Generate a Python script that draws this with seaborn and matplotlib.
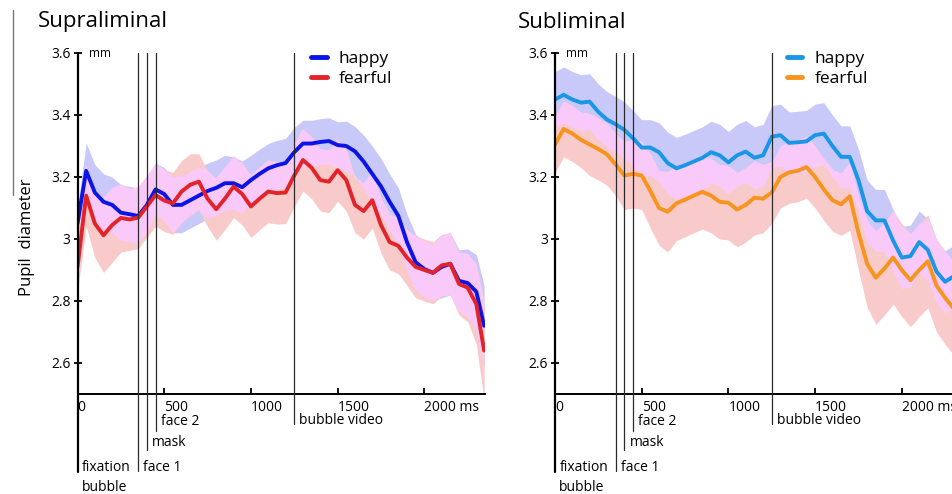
import numpy as np
import pandas as pd
import seaborn as sns
import matplotlib.pyplot as plt
import matplotlib.transforms as mtransforms
from matplotlib.lines import Line2D

sns.set_style('ticks', {'text.color': 'black', 'xtick.color': 'black',
                        'ytick.color': 'black', 'axes.edgecolor': 'black'})
plt.rcParams['font.family'] = ['Open Sans', 'DejaVu Sans']

# ---- data (ms, mm) ----
time_supra = list(range(0, 2301, 50)) + [2345]
supra_happy = [3.05, 3.22, 3.15, 3.12, 3.11, 3.085, 3.08, 3.074, 3.11, 3.16,
               3.145, 3.11, 3.11, 3.125, 3.14, 3.155, 3.165, 3.18, 3.18, 3.167,
               3.19, 3.21, 3.228, 3.238, 3.245, 3.28, 3.308, 3.308, 3.313, 3.316,
               3.303, 3.30, 3.283, 3.25, 3.21, 3.17, 3.12, 3.075, 2.99, 2.925,
               2.903, 2.891, 2.91, 2.92, 2.865, 2.858, 2.83, 2.72]
supra_fearful = [2.91, 3.14, 3.05, 3.012, 3.045, 3.068, 3.063, 3.069, 3.105, 3.142,
                 3.124, 3.115, 3.153, 3.175, 3.185, 3.13, 3.096, 3.13, 3.169, 3.145,
                 3.105, 3.13, 3.153, 3.148, 3.15, 3.205, 3.255, 3.23, 3.19, 3.185,
                 3.222, 3.19, 3.11, 3.09, 3.125, 3.045, 2.99, 2.978, 2.94, 2.91,
                 2.90, 2.891, 2.915, 2.92, 2.855, 2.843, 2.79, 2.64]
supra_happy_se = [0.05, 0.09, 0.09, 0.09, 0.09, 0.09, 0.09, 0.09, 0.09, 0.085,
                  0.085, 0.09, 0.09, 0.09, 0.09, 0.09, 0.09, 0.09, 0.085, 0.085,
                  0.08, 0.08, 0.08, 0.08, 0.08, 0.08, 0.075, 0.075, 0.075, 0.075,
                  0.075, 0.08, 0.08, 0.085, 0.09, 0.09, 0.09, 0.09, 0.09, 0.09,
                  0.09, 0.09, 0.10, 0.10, 0.10, 0.11, 0.12, 0.13]
supra_fearful_se = [0.08, 0.10, 0.11, 0.12, 0.12, 0.11, 0.10, 0.10, 0.10, 0.10,
                    0.10, 0.10, 0.10, 0.10, 0.09, 0.09, 0.10, 0.10, 0.10, 0.10,
                    0.10, 0.10, 0.10, 0.10, 0.10, 0.10, 0.10, 0.10, 0.10, 0.10,
                    0.10, 0.10, 0.09, 0.09, 0.09, 0.09, 0.09, 0.09, 0.09, 0.10,
                    0.10, 0.10, 0.10, 0.10, 0.10, 0.11, 0.13, 0.16]

time_sub = list(range(0, 2301, 50))
sub_happy = [3.45, 3.465, 3.45, 3.44, 3.443, 3.41, 3.385, 3.37, 3.352, 3.325,
             3.295, 3.295, 3.28, 3.245, 3.228, 3.238, 3.25, 3.262, 3.28, 3.27,
             3.247, 3.27, 3.282, 3.262, 3.27, 3.33, 3.335, 3.31, 3.312, 3.315,
             3.335, 3.34, 3.30, 3.265, 3.265, 3.19, 3.09, 3.06, 3.06, 2.995,
             2.94, 2.945, 2.99, 2.965, 2.895, 2.862, 2.88]
sub_fearful = [3.305, 3.355, 3.34, 3.32, 3.305, 3.29, 3.273, 3.24, 3.205, 3.21,
               3.205, 3.155, 3.10, 3.088, 3.115, 3.127, 3.14, 3.152, 3.14, 3.12,
               3.117, 3.095, 3.11, 3.133, 3.13, 3.15, 3.20, 3.215, 3.22, 3.232,
               3.20, 3.16, 3.125, 3.112, 3.138, 3.02, 2.92, 2.875, 2.905, 2.94,
               2.90, 2.867, 2.90, 2.928, 2.85, 2.81, 2.775]
sub_happy_se = [0.09, 0.09, 0.09, 0.09, 0.09, 0.09, 0.09, 0.09, 0.09, 0.09,
                0.09, 0.09, 0.095, 0.10, 0.10, 0.10, 0.10, 0.10, 0.10, 0.10,
                0.10, 0.10, 0.10, 0.10, 0.10, 0.10, 0.10, 0.10, 0.10, 0.10,
                0.10, 0.10, 0.10, 0.10, 0.10, 0.10, 0.10, 0.10, 0.10, 0.10,
                0.10, 0.10, 0.10, 0.10, 0.10, 0.10, 0.10]
sub_fearful_se = [0.09, 0.09, 0.09, 0.09, 0.10, 0.10, 0.10, 0.10, 0.11, 0.11,
                  0.11, 0.12, 0.12, 0.13, 0.12, 0.12, 0.12, 0.12, 0.12, 0.12,
                  0.12, 0.12, 0.12, 0.12, 0.11, 0.10, 0.10, 0.10, 0.10, 0.10,
                  0.10, 0.10, 0.10, 0.10, 0.11, 0.12, 0.14, 0.15, 0.15, 0.15,
                  0.15, 0.15, 0.15, 0.15, 0.15, 0.15, 0.15]

y_ticks = [2.6, 2.8, 3.0, 3.2, 3.4, 3.6]
y_ticklabels = ['2.6', '2.8', '3', '3.2', '3.4', '3.6']
x_ticks = [0, 500, 1000, 1500, 2000]
x_ticklabels = ['0', '500', '1000', '1500', '2000 ms']

event_times = [350, 400, 450, 1250]
event_labels = ['face 1', 'mask', 'face 2', 'bubble video']
event_bottoms = [-0.226, -0.164, -0.108, -0.088]
label_heights = [-0.217, -0.141, -0.082, -0.079]

band_happy = '#c9c9f9'
band_fearful = '#f9caca'
band_both = '#f9caf9'


def draw_panel(ax, t, happy, fearful, happy_se, fearful_se, c_happy, c_fearful, leg_x):
    t = np.asarray(t)
    h, f = np.asarray(happy), np.asarray(fearful)
    h_lo, h_hi = h - np.asarray(happy_se), h + np.asarray(happy_se)
    f_lo, f_hi = f - np.asarray(fearful_se), f + np.asarray(fearful_se)
    ax.fill_between(t, h_lo, h_hi, color=band_happy, lw=0)
    ax.fill_between(t, f_lo, f_hi, color=band_fearful, lw=0)
    lo, hi = np.maximum(h_lo, f_lo), np.minimum(h_hi, f_hi)
    ax.fill_between(t, lo, hi, where=lo < hi, interpolate=True, color=band_both, lw=0)

    df = pd.DataFrame({'t': t, 'happy': h, 'fearful': f})
    sns.lineplot(data=df, x='t', y='happy', color=c_happy, lw=2.8, ax=ax,
                 solid_joinstyle='round')
    sns.lineplot(data=df, x='t', y='fearful', color=c_fearful, lw=2.8, ax=ax,
                 solid_joinstyle='round')
    ax.set_xlabel('')
    ax.set_ylabel('')

    ax.set_xlim(0, 2350)
    ax.set_ylim(2.5, 3.6)
    ax.set_yticks(y_ticks)
    ax.set_yticklabels(y_ticklabels)
    ax.set_xticks(x_ticks)
    ax.set_xticklabels(x_ticklabels, ha='left')
    ax.tick_params(axis='x', direction='in', length=4, width=1.3, pad=4, labelsize=10)
    ax.tick_params(axis='y', direction='inout', length=6, width=1.3, pad=2, labelsize=10)
    for s in ['top', 'right', 'left']:
        ax.spines[s].set_visible(False)
    ax.spines['bottom'].set_linewidth(1.4)

    # y axis runs down to the fixation label
    ax.axvline(0, ymin=-0.229, ymax=1, color='k', lw=1.6, clip_on=False)
    trans = mtransforms.blended_transform_factory(ax.transData, ax.transAxes)
    for et, lab, yb, yl in zip(event_times, event_labels, event_bottoms, label_heights):
        ax.axvline(et, ymin=yb, ymax=1, color='#2a2a2a', lw=0.9, clip_on=False, zorder=4)
        ax.text(et + 30, yl, lab, transform=trans, fontsize=10, va='center', ha='left')
    ax.text(25, -0.217, 'fixation', transform=trans, fontsize=10, va='center', ha='left')
    ax.text(25, -0.273, 'bubble', transform=trans, fontsize=10, va='center', ha='left')
    ax.text(0.028, 1.0, 'mm', transform=ax.transAxes, fontsize=8.5, va='center', ha='left')

    handles = [Line2D([], [], color=c_happy, lw=3.5), Line2D([], [], color=c_fearful, lw=3.5)]
    ax.legend(handles, ['happy', 'fearful'], loc='upper left', bbox_to_anchor=(leg_x, 1.016),
              frameon=False, fontsize=12.5, handlelength=0.9, handletextpad=0.7,
              labelspacing=0.2, borderpad=0.2, borderaxespad=0)


fig = plt.figure(figsize=(9.52, 4.94), dpi=100)
ax1 = fig.add_axes([77.5 / 952, 1 - 394 / 494, 407.5 / 952, 341 / 494])
ax2 = fig.add_axes([555 / 952, 1 - 394 / 494, 407.5 / 952, 341 / 494])

draw_panel(ax1, time_supra, supra_happy, supra_fearful, supra_happy_se, supra_fearful_se,
           '#0a14e6', '#e3232a', 0.565)
draw_panel(ax2, time_sub, sub_happy, sub_fearful, sub_happy_se, sub_fearful_se,
           '#1996e6', '#f7941d', 0.56)

fig.text(38 / 952, 1 - 22 / 494, 'Supraliminal', fontsize=16, va='center', ha='left')
fig.text(518 / 952, 1 - 22 / 494, 'Subliminal', fontsize=16, va='center', ha='left')
fig.text(27 / 952, 1 - 237 / 494, 'Pupil  diameter', fontsize=12, rotation=90,
         va='center', ha='center')
fig.add_artist(Line2D([13 / 952, 13 / 952], [1 - 10 / 494, 1 - 195 / 494],
                      color='#777777', lw=1))

fig.savefig('out.png', dpi=100)
